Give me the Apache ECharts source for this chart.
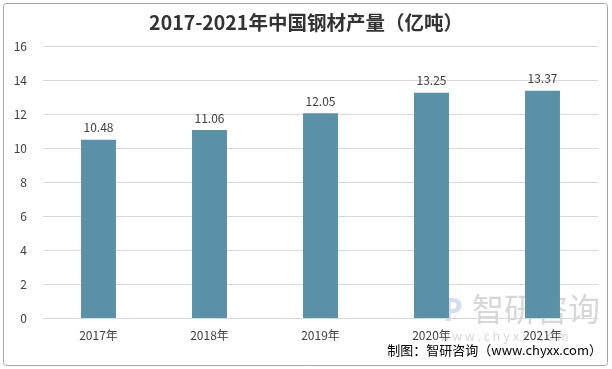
<!DOCTYPE html>
<html><head><meta charset="utf-8">
<script src="https://cdn.jsdelivr.net/npm/echarts@6/dist/echarts.min.js"></script>
<style>html,body{margin:0;padding:0;background:#fff}#c{width:612px;height:369px}</style>
</head><body><div id="c"></div>
<script>
const categories = ['2017年','2018年','2019年','2020年','2021年'];
const values = [10.48, 11.06, 12.05, 13.25, 13.37];
const yTicks = [0,2,4,6,8,10,12,14,16];
const titleText = '2017-2021年中国钢材产量（亿吨）';
const sourceText = '制图：智研咨询（www.chyxx.com）';

const chart = echarts.init(document.getElementById('c'));
const font = '"Noto Sans CJK SC", "Noto Sans", sans-serif';
chart.setOption({
  animation: false,
  textStyle: {fontFamily: font},
  title: {text: titleText, left: 'center', top: 8,
    textStyle: {fontSize: 19.5, fontWeight: 'bold', color: '#333', fontFamily: font}},
  grid: {left: 43, right: 14, top: 46, bottom: 51, containLabel: false},
  xAxis: {type: 'category', data: categories,
    axisLine: {show: true, lineStyle: {color: '#d9d9d9'}},
    axisTick: {show: false},
    axisLabel: {color: '#404040', fontSize: 12, margin: 11, fontFamily: font}},
  yAxis: {type: 'value', min: yTicks[0], max: yTicks[yTicks.length-1], interval: 2,
    axisLine: {show: false}, axisTick: {show: false},
    splitLine: {lineStyle: {color: '#d9d9d9'}},
    axisLabel: {color: '#404040', fontSize: 12, margin: 16, fontFamily: font}},
  series: [{type: 'bar', data: values, barWidth: '31.5%',
    itemStyle: {color: '#5b91a7'},
    label: {show: true, position: 'top', color: '#404040', fontSize: 12, distance: 6,
      formatter: p => p.value.toFixed(2), fontFamily: font}}],
  graphic: [
    {type: 'rect', shape: {x: 3.5, y: 3.5, width: 604, height: 362, r: 3},
      style: {fill: 'none', stroke: '#a6a6a6', lineWidth: 1}, z: -1},
    {type: 'text', left: 472, top: 293, z: 0,
      style: {text: '智研咨询', font: '32px "Noto Sans CJK SC"', fill: 'rgba(140,140,140,0.35)'}},
    {type: 'text', left: 440, top: 332, z: 0,
      style: {text: 'w w w . c h y x x . c o m', font: '12px "Noto Sans"', fill: 'rgba(140,140,140,0.35)'}},
    {type: 'text', left: 443, top: 296, z: 0,
      style: {text: 'P', font: 'bold 32px "Noto Sans"', fill: 'rgba(110,150,200,0.3)'}},
    {type: 'text', right: 10, top: 344, z: 10,
      style: {text: sourceText, font: '13px ' + font, fill: '#000'}}
  ]
});
</script></body></html>
